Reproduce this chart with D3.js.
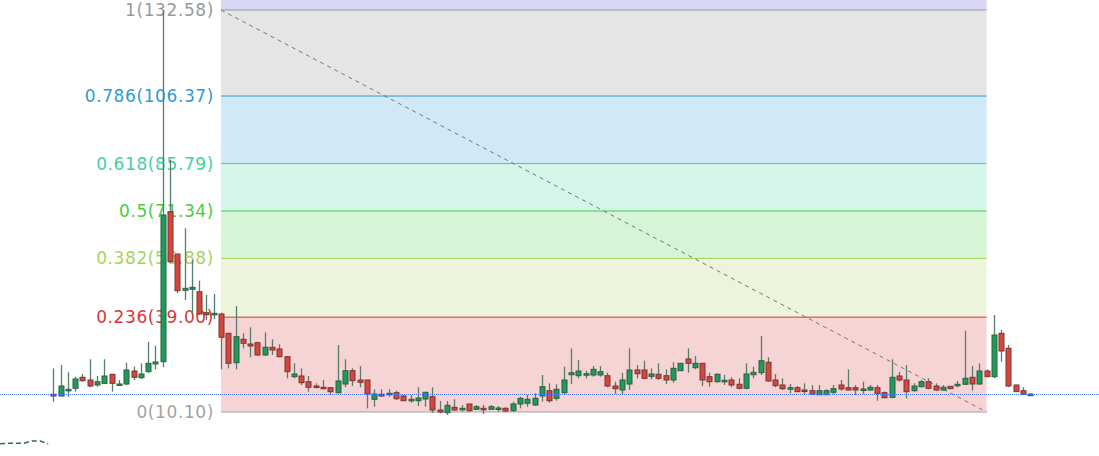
<!DOCTYPE html>
<html>
<head>
<meta charset="utf-8">
<script src="https://cdn.jsdelivr.net/npm/d3@7"></script>
<style>
  html, body { margin: 0; padding: 0; background: #fff; overflow: hidden; }
  svg { display: block; }
  .fib-label { font-family: "DejaVu Sans", Verdana, sans-serif; font-size: 17px; letter-spacing: 0.6px; }
</style>
</head>
<body>
<svg id="chart"></svg>
<script>
// Candle data (price units), one entry per bar
const opens  = [15.49,14.98,16.6,17.32,20.67,19.85,18.33,18.84,21.59,18.42,18.63,22.59,20.55,22.38,24.73,25.43,71.13,58.24,47.18,47.49,46.75,40.36,39.75,
  39.96,34.08,25.12,32.25,30.82,31.22,27.47,29.81,29.3,26.95,20.86,21.07,19.33,18.02,17.63,17.5,15.98,18.63,22.68,19.85,19.85,13.97,15.49,15.37,15.98,
  14.98,13.54,13.54,14.06,14.76,10.71,9.9,11.53,10.92,12.54,10.92,11.23,10.92,10.92,11.23,10.5,12.54,12.75,12.23,14.98,16.59,14.27,15.98,21.46,21.16,21.37,21.37,21.37,
  21.16,18.02,16.8,18.63,22.9,22.9,20.96,21.59,21.16,19.85,22.68,26.25,23.6,24.94,20.86,19.33,19.33,19.85,18.54,17.32,21.46,22.07,25.24,19.85,18.33,17.2,17.5,
  16.8,16.59,15.37,15.37,16.1,18.33,17.5,17.5,16.8,16.8,17.5,15.98,14.58,21.07,19.85,16.59,17.81,19.33,18.02,16.8,17.93,18.12,18.54,20.67,18.63,22.59,
  20.86,34.08,29.51,18.33,16.59,15.07];
const highs  = [23.4,24.42,22.2,20.86,21.68,26.16,21.07,26.16,21.68,19.85,25.12,23.9,24.94,31.52,30.3,132.58,86.9,58.24,66.07,56.41,50.1,45.75,46.05,
  40.36,34.08,42.4,34.08,35.9,31.52,34.38,32.25,30.73,27.16,24.94,23.41,21.07,18.84,19.85,17.63,30.51,26.16,23.41,24.12,19.85,17.02,17.02,17.02,16.59,
  15.28,15.28,17.63,16.29,17.63,13.45,13.45,13.97,12.23,12.54,12.23,12.23,12.23,11.93,11.53,13.24,14.76,15.28,15.8,21.37,18.84,18.54,23.9,29.51,25.94,22.68,24.12,24.12,
  22.07,19.33,22.07,29.51,24.42,25.73,23.41,24.94,23.11,25.24,25.0,29.51,27.16,24.94,22.07,21.9,21.37,20.67,20.37,24.94,23.9,33.26,26.77,21.68,20.37,18.63,18.02,
  18.84,18.33,18.33,17.02,18.33,19.85,23.11,18.33,19.33,18.33,18.33,16.29,26.16,22.38,24.42,18.84,19.85,20.37,18.84,18.33,18.0,19.55,34.87,24.12,24.94,23.11,
  39.66,35.08,30.51,18.4,17.63,15.8];
const lows   = [13.24,14.76,14.76,16.29,19.33,17.63,17.81,18.63,16.29,18.24,18.33,19.85,20.15,22.07,23.11,23.72,55.4,46.27,44.23,40.17,39.66,38.13,38.35,
  23.11,23.41,23.11,29.51,26.77,27.16,27.16,27.47,26.77,20.37,20.37,18.33,16.29,17.32,17.02,15.28,15.8,17.63,18.02,17.63,11.23,11.71,14.76,14.76,13.76,
  13.54,12.93,11.93,11.71,9.8,9.7,9.19,10.5,10.19,10.19,10.71,9.49,10.71,10.19,10.19,10.19,11.23,11.71,11.93,13.24,12.93,13.54,15.28,18.63,20.37,20.37,20.86,20.86,
  17.63,15.58,15.58,16.8,20.37,20.06,20.06,19.85,18.63,19.03,22.6,22.07,23.11,18.02,17.81,19.03,18.33,17.63,17.02,17.02,20.37,21.37,19.33,17.63,16.8,15.8,16.19,
  15.58,15.28,15.28,15.28,15.58,16.59,16.59,15.28,15.58,16.59,13.54,14.27,14.27,19.33,14.27,16.29,17.63,17.02,16.59,16.59,17.1,17.63,18.33,16.59,18.33,20.86,
  20.37,25.43,17.63,16.2,15.28,14.98];
const closes = [14.97,18.02,17.0,20.15,19.64,18.02,19.33,21.07,18.84,18.63,22.9,20.67,21.68,24.94,25.34,70.13,55.9,47.06,47.79,48.1,39.96,39.75,40.17,
  32.86,24.94,33.04,31.03,30.21,27.47,29.81,28.99,26.95,22.38,21.68,19.03,17.63,17.63,17.2,16.29,19.55,22.68,19.64,19.15,15.58,15.58,14.98,15.8,14.15,
  13.54,13.97,14.37,16.1,10.71,10.1,12.14,10.71,11.23,10.5,11.71,10.8,11.71,11.32,10.4,12.54,14.27,13.97,14.27,17.81,13.54,17.02,19.85,22.07,22.59,21.77,23.11,22.38,
  18.02,17.2,19.85,22.9,21.77,20.37,21.68,20.37,19.85,23.41,24.94,24.94,24.94,19.85,19.33,21.59,19.76,18.33,17.32,21.68,22.19,25.73,19.55,18.12,17.2,17.5,16.29,
  16.4,15.49,16.59,16.59,17.2,17.11,16.8,16.8,17.11,17.63,15.8,14.46,20.67,19.85,16.29,18.02,19.33,17.32,16.8,17.63,17.2,18.54,20.37,18.63,22.59,20.86,
  33.56,28.69,18.02,16.29,15.49,15.58];

// Fibonacci retracement: swing high / low and the bars it spans
const fibHigh = 132.58;
const fibLow = 10.10;
const fibStartBar = 23;
const fibEndBar = 128;
const fibRatios = [1.272, 1, 0.786, 0.618, 0.5, 0.382, 0.236, 0];
const fibLabels = [null, "1(132.58)", "0.786(106.37)", "0.618(85.79)", "0.5(71.34)", "0.382(56.88)", "0.236(39.00)", "0(10.10)"];
const fibColors = ["#4a44c8", "#999999", "#2f9ad6", "#3fd1a0", "#45cc45", "#a8d35a", "#d6363c", "#a3a3a3"];
const bandOpacity = [0.22, 0.25, 0.22, 0.22, 0.22, 0.22, 0.22];

// a stray indicator line peeking in at the bottom left
const tailBars = [-7.3, -6.2, -5.1, -4.0, -2.9, -1.8, -0.7];
const tailValues = [0.4, 0.6, 0.6, 0.6, 1.3, 1.3, 0.4];

const width = 1099, height = 456;
const svg = d3.select("#chart").attr("width", width).attr("height", height);

const x = d3.scaleLinear().domain([0, closes.length - 1]).range([53.3, 1030.3]);
const y = d3.scaleLinear().domain([fibLow, fibHigh]).range([412, 10]);

const fibLevels = fibRatios.map((r, i) => ({
  ratio: r,
  value: fibLow + r * (fibHigh - fibLow),
  label: fibLabels[i],
  color: fibColors[i]
}));

const x0 = x(fibStartBar), x1 = x(fibEndBar);

// bands: each level fills the space down to the next level with its own colour
const bandG = svg.append("g");
fibLevels.slice(0, -1).forEach((lv, i) => {
  const top = Math.max(0, y(lv.value));
  const bottom = y(fibLevels[i + 1].value);
  bandG.append("rect")
    .attr("x", x0).attr("width", x1 - x0)
    .attr("y", top).attr("height", bottom - top)
    .attr("fill", lv.color).attr("fill-opacity", bandOpacity[i]);
});

// level lines and labels
fibLevels.forEach(lv => {
  if (y(lv.value) < 0) return;
  svg.append("line")
    .attr("x1", x0).attr("x2", x1)
    .attr("y1", y(lv.value)).attr("y2", y(lv.value))
    .attr("stroke", lv.color).attr("stroke-width", 1);
  if (lv.label) {
    svg.append("text")
      .attr("class", "fib-label")
      .attr("x", 214).attr("y", y(lv.value) + 1)
      .attr("text-anchor", "end")
      .attr("dominant-baseline", "middle")
      .attr("fill", lv.color)
      .text(lv.label);
  }
});

// trend line from high to low
svg.append("line")
  .attr("x1", x0).attr("y1", y(fibHigh))
  .attr("x2", x1).attr("y2", y(fibLow))
  .attr("stroke", "#777").attr("stroke-width", 1)
  .attr("stroke-dasharray", "4,4");

// candles
const bars = d3.range(closes.length).map(i => ({
  i, o: opens[i], h: highs[i], l: lows[i], c: closes[i]
}));
const candleG = svg.append("g");
const bodyW = 5;

candleG.selectAll("line.wick")
  .data(bars).enter().append("line")
  .attr("class", "wick")
  .attr("x1", d => Math.round(x(d.i)) + 0.5).attr("x2", d => Math.round(x(d.i)) + 0.5)
  .attr("y1", d => y(d.h)).attr("y2", d => y(d.l))
  .attr("stroke", "#557f68").attr("stroke-width", 1.3);

candleG.selectAll("rect.body")
  .data(bars).enter().append("rect")
  .attr("class", "body")
  .attr("x", d => Math.round(x(d.i)) + 0.5 - bodyW / 2)
  .attr("width", bodyW)
  .attr("y", d => Math.min(y(d.o), y(d.c)))
  .attr("height", d => Math.max(1.5, Math.abs(y(d.o) - y(d.c))))
  .attr("fill", d => d.c >= d.o ? "#1c9c58" : "#d4473f")
  .attr("stroke", d => d.c >= d.o ? "#2f5e45" : "#7d3430")
  .attr("stroke-width", 1);

// last price line
const lastPrice = closes[closes.length - 1];
svg.append("line")
  .attr("x1", 0).attr("x2", width)
  .attr("y1", Math.round(y(lastPrice)) + 0.5).attr("y2", Math.round(y(lastPrice)) + 0.5)
  .attr("stroke", "#4a78f0").attr("stroke-width", 1)
  .attr("stroke-dasharray", "1,1");

// bottom-left indicator fragment
svg.append("path")
  .datum(tailBars.map((b, i) => [b, tailValues[i]]))
  .attr("d", d3.line().x(d => x(d[0])).y(d => y(d[1])))
  .attr("fill", "none")
  .attr("stroke", "#2f6b4a").attr("stroke-width", 1.5)
  .attr("stroke-dasharray", "5,3");
</script>
</body>
</html>
